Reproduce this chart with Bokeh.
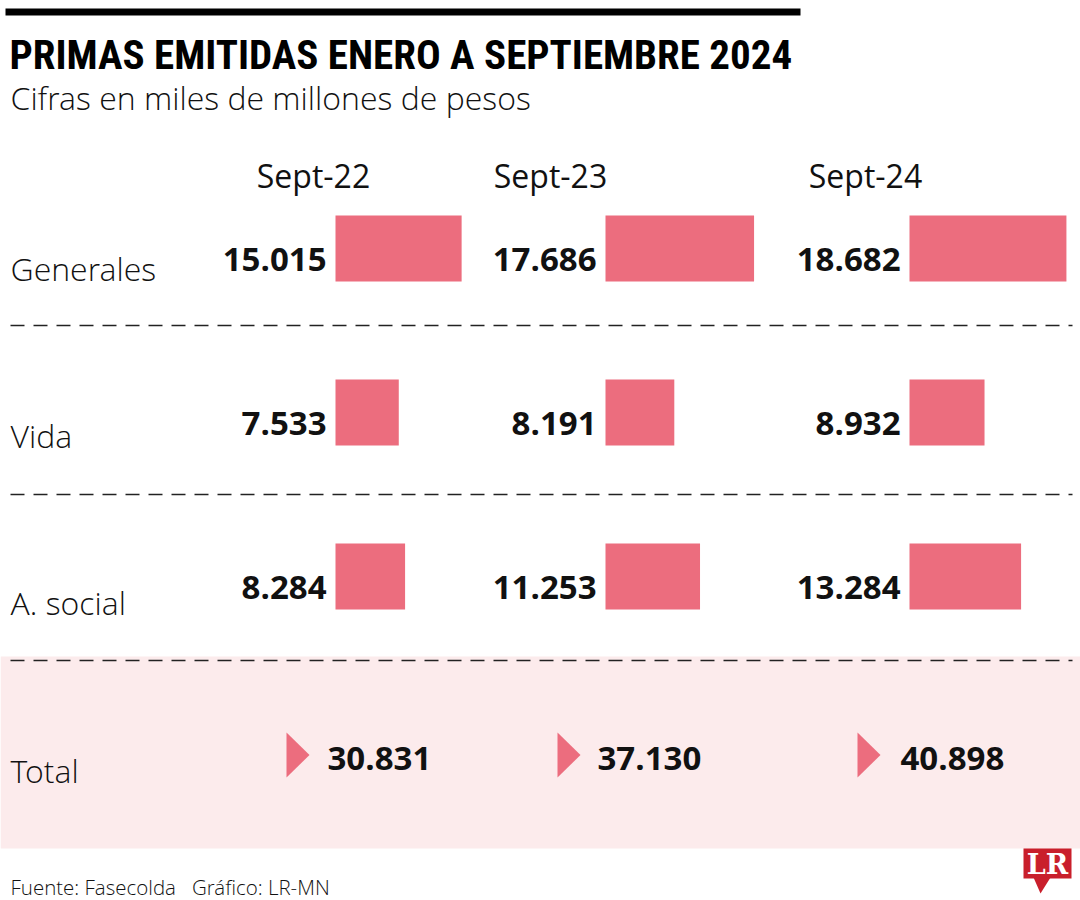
from bokeh.plotting import figure
from bokeh.models import Range1d, ColumnDataSource
from bokeh.core.properties import value
from bokeh.embed import file_html
from bokeh.resources import INLINE

# ---------------- data ----------------
title = "PRIMAS EMITIDAS ENERO A SEPTIEMBRE 2024"
subtitle = "Cifras en miles de millones de pesos"
periods = ["Sept-22", "Sept-23", "Sept-24"]
categories = ["Generales", "Vida", "A. social"]
generales = [15015, 17686, 18682]
vida = [7533, 8191, 8932]
a_social = [8284, 11253, 13284]
totals = [30831, 37130, 40898]
total_label = "Total"
footer = "Fuente: Fasecolda\u00a0\u00a0\u00a0Gráfico: LR-MN"

series = [generales, vida, a_social]

# ---------------- layout / style ----------------
W, H = 1080, 900
PX_PER_UNIT = 0.0084          # screen pixels per unit of value
def X(px):                     # layout position in screen px -> data units
    return px / PX_PER_UNIT

def B(baseline, size, k=0.31):  # compensate renderer baseline offset
    return baseline - k * size

BAR_COLOR = "#ec6d7e"
BAND_COLOR = "#fcebec"
TEXT = "#111111"
F = value("Open Sans")
FL = value("Open Sans Light")

col_bar_px = [335, 605, 909]
col_head_px = [313, 550, 865]
row_center = [248, 412, 576]
row_base = [278, 445, 612]
bar_h = 66
sep_y = [325, 494, 660]
tri_px = [286, 557, 857]
tot_text_px = [327, 597, 900]

p = figure(width=W, height=H, output_backend="svg", toolbar_location=None,
           x_range=Range1d(X(0), X(W)), y_range=Range1d(H, 0),
           min_border=0, outline_line_color=None)
p.axis.visible = False
p.grid.visible = False
p.background_fill_color = "white"
p.border_fill_color = "white"

# logo (under the pink band)
p.quad(left=[X(1023)], right=[X(1071)], top=[846], bottom=[878],
       fill_color="#c91f2b", line_color=None)
p.patch(x=[X(1033), X(1050), X(1040)], y=[877, 877, 893],
        fill_color="#c91f2b", line_color=None)
p.text(x=[X(1047)], y=[B(869, 27, 0.2)], text=["LR"], text_color="white",
       text_font=value("DejaVu Serif"), text_font_style="bold",
       text_font_size="27px", text_align="center", text_baseline="alphabetic")

# pink total band
p.quad(left=[X(0)], right=[X(1080)], top=[656], bottom=[848],
       fill_color=BAND_COLOR, line_color=None)

# top black rule
p.quad(left=[X(5)], right=[X(800)], top=[8], bottom=[15],
       fill_color="black", line_color=None)

# title / subtitle
p.text(x=[X(9)], y=[B(66, 41, 0.28)], text=[title], text_color="black",
       text_font=value("Roboto Condensed"), text_font_style="bold",
       text_font_size="41px", text_baseline="alphabetic")
p.text(x=[X(10)], y=[B(107, 32)], text=[subtitle], text_color=TEXT,
       text_font=FL, text_font_size="32px", text_baseline="alphabetic")

# column headers
p.text(x=[X(c) for c in col_head_px], y=[B(185, 32)] * 3, text=periods,
       text_color=TEXT, text_font=F, text_font_size="32px",
       text_align="center", text_baseline="alphabetic")

# row labels
p.text(x=[X(10)] * 4, y=[B(b, 32) for b in row_base + [780]],
       text=categories + [total_label],
       text_color=TEXT, text_font=FL, text_font_size="32px",
       text_baseline="alphabetic")

# bars + value labels
for r, vals in enumerate(series):
    lefts = [X(c) for c in col_bar_px]
    rights = [l + v for l, v in zip(lefts, vals)]
    src = ColumnDataSource(dict(left=lefts, right=rights,
                                top=[row_center[r] - bar_h / 2] * 3,
                                bottom=[row_center[r] + bar_h / 2] * 3))
    p.quad(left="left", right="right", top="top", bottom="bottom", source=src,
           fill_color=BAR_COLOR, line_color=None)
    labels = [f"{v:,}".replace(",", ".") for v in vals]
    p.text(x=[X(c - 9) for c in col_bar_px], y=[B(row_center[r] + 21.5, 33)] * 3,
           text=labels, text_color=TEXT, text_font=F, text_font_style="bold",
           text_font_size="33px", text_align="right", text_baseline="alphabetic")

# dashed separators
for y in sep_y:
    p.line(x=[X(10), X(1072)], y=[y, y], line_color="#222222", line_width=1.3,
           line_dash="14 9")

# totals
for i, t in enumerate(totals):
    p.patch(x=[X(tri_px[i]), X(tri_px[i] + 23), X(tri_px[i])],
            y=[732, 754.5, 777], fill_color=BAR_COLOR, line_color=None)
p.text(x=[X(c) for c in tot_text_px], y=[B(768, 33)] * 3,
       text=[f"{t:,}".replace(",", ".") for t in totals], text_color=TEXT,
       text_font=F, text_font_style="bold", text_font_size="33px",
       text_baseline="alphabetic")

# footer
p.text(x=[X(10)], y=[B(893, 20.5)], text=[footer], text_color=TEXT, text_font=FL,
       text_font_size="20.5px", text_baseline="alphabetic")

open("out.html", "w").write(file_html(p, INLINE))
